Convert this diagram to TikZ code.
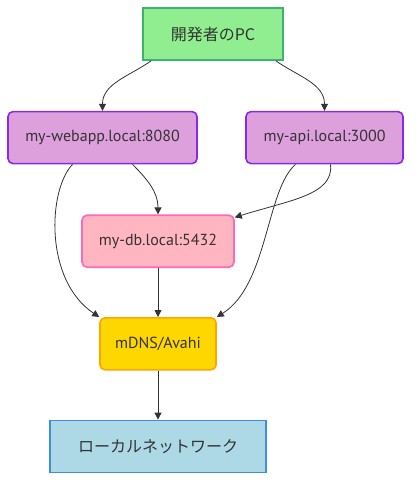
\documentclass[tikz,border=0pt]{standalone}
\usepackage{fontspec}
\setmainfont{PT Sans}
\newfontfamily\jpfont{Noto Sans CJK JP}
\usepackage{tikz}
\usetikzlibrary{arrows.meta,positioning}
\definecolor{PcFill}     {HTML}{90EE90}
\definecolor{PcLine}     {HTML}{3CB371}
\definecolor{HostFill}   {HTML}{DDA0DD}
\definecolor{HostLine}   {HTML}{8A2BE2}
\definecolor{DbFill}     {HTML}{FFB6C1}
\definecolor{DbLine}     {HTML}{FF69B4}
\definecolor{MdnsFill}   {HTML}{FFD700}
\definecolor{MdnsLine}   {HTML}{FFA500}
\definecolor{NetFill}    {HTML}{ADD8E6}
\definecolor{NetLine}    {HTML}{3A8EE6}
\definecolor{EdgeGray}   {HTML}{333333}

\begin{document}
\begin{tikzpicture}[x=1pt,y=1pt,node distance=50pt,
    box/.style={minimum height=52pt,inner sep=0pt,line width=1.6pt,
                text=EdgeGray,font=\fontsize{16}{19}\selectfont},
    pcbox/.style={box,fill=PcFill,draw=PcLine,minimum width=140pt},
    hostbox/.style={box,fill=HostFill,draw=HostLine,rounded corners=5pt},
    dbbox/.style={box,fill=DbFill,draw=DbLine,rounded corners=5pt,minimum width=152pt},
    mdnsbox/.style={box,fill=MdnsFill,draw=MdnsLine,rounded corners=5pt,minimum width=116pt},
    netbox/.style={box,fill=NetFill,draw=NetLine,minimum width=216pt},
    arr/.style={-{Triangle[length=7pt,width=7pt]},color=EdgeGray,line width=0.8pt}]
    \useasboundingbox (0,0) rectangle (418,-486);
    \node[pcbox] (pc) at (213,-34) {\jpfont 開発者のPC};
    \node[hostbox, minimum width=189pt, below=50pt of pc, xshift=-110.5pt] (web) {my-webapp.local:8080};
    \node[hostbox, minimum width=157pt, below=50pt of pc, xshift=111.5pt] (api) {my-api.local:3000};
    \node[dbbox, below=50pt of web, xshift=55.5pt] (db) {my-db.local:5432};
    \node[mdnsbox, below=49pt of db] (mdns) {mDNS/Avahi};
    \node[netbox, below=49pt of mdns] (net) {\jpfont ローカルネットワーク};
    \draw[arr] ([xshift=9pt]pc.south west) to[out=-145,in=90] (web.north);
    \draw[arr] ([xshift=-8pt]pc.south east) to[out=-35,in=90] (api.north);
    \draw[arr] ([xshift=30pt]web.south) to[out=-45,in=90] (db.north);
    \draw[arr] ([xshift=-30pt]web.south) .. controls (48,-190) and (44,-280) .. (mdns.north west);
    \draw[arr] ([xshift=6pt]api.south) .. controls (334,-195) and (290,-200) .. ([yshift=-3pt]db.north east);
    \draw[arr] ([xshift=-29pt]api.south) .. controls (266,-190) and (268,-285) .. (mdns.north east);
    \draw[arr] (db) -- (mdns);
    \draw[arr] (mdns) -- (net);
\end{tikzpicture}
\end{document}
